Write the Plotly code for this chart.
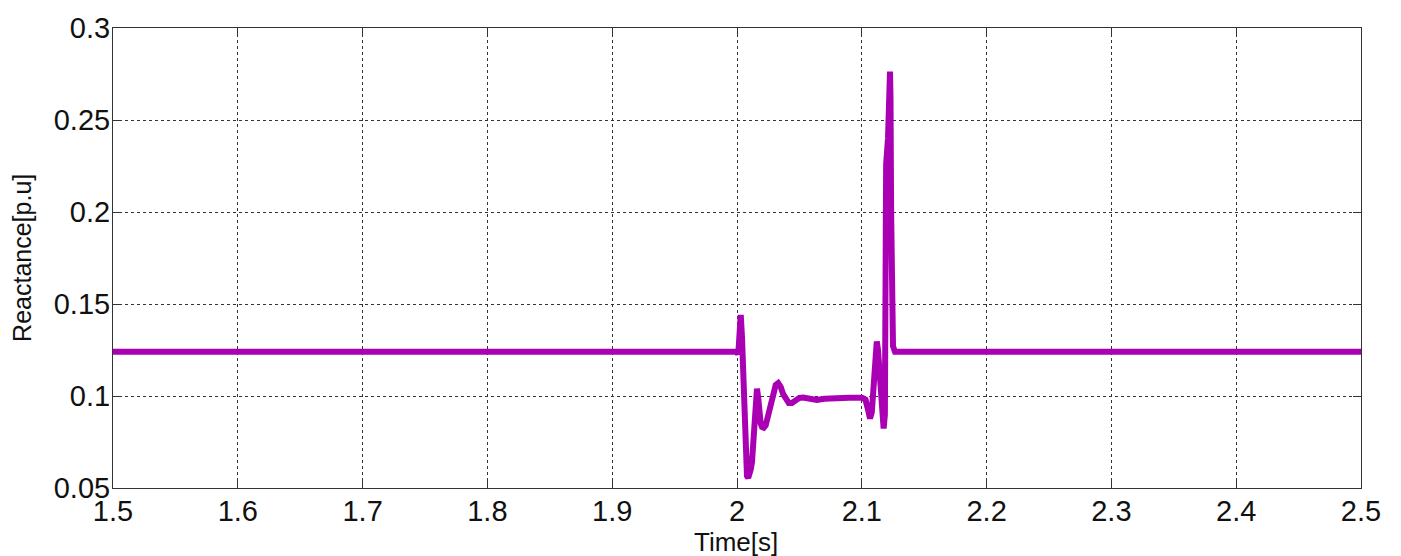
import plotly.graph_objects as go

# Reactance response around the disturbance (time in s, reactance in p.u.)
time_s = [
    1.5, 2.000, 2.001, 2.002, 2.003, 2.004, 2.005, 2.006, 2.007, 2.008,
    2.009, 2.010, 2.011, 2.012, 2.013, 2.014, 2.015, 2.016, 2.017, 2.018,
    2.019, 2.020, 2.0215, 2.023, 2.025, 2.027, 2.029, 2.031, 2.033, 2.035,
    2.037, 2.039, 2.0415, 2.044, 2.047, 2.050, 2.053, 2.058, 2.064, 2.070,
    2.080, 2.090, 2.100, 2.103, 2.105, 2.1066, 2.108, 2.110, 2.111, 2.112,
    2.113, 2.115, 2.1165, 2.1175, 2.1185, 2.119, 2.1195, 2.121, 2.1226, 2.123,
    2.1235, 2.124, 2.125, 2.1266, 2.5,
]
reactance_pu = [
    0.124, 0.124, 0.1226, 0.140, 0.144, 0.132, 0.108, 0.082, 0.064, 0.0565,
    0.0555, 0.057, 0.060, 0.064, 0.075, 0.092, 0.102, 0.104, 0.099, 0.090,
    0.085, 0.0832, 0.0828, 0.084, 0.089, 0.096, 0.102, 0.106, 0.107, 0.105,
    0.101, 0.098, 0.0962, 0.0962, 0.0975, 0.099, 0.0992, 0.0983, 0.0978, 0.0985,
    0.0990, 0.0990, 0.0990, 0.0980, 0.0925, 0.0878, 0.091, 0.112, 0.126, 0.1296,
    0.125, 0.102, 0.085, 0.0823, 0.090, 0.128, 0.226, 0.240, 0.2763, 0.262,
    0.200, 0.140, 0.127, 0.124, 0.124,
]

x_ticks = [1.5, 1.6, 1.7, 1.8, 1.9, 2.0, 2.1, 2.2, 2.3, 2.4, 2.5]
x_tick_text = ["1.5", "1.6", "1.7", "1.8", "1.9", "2", "2.1", "2.2", "2.3", "2.4", "2.5"]
y_ticks = [0.05, 0.1, 0.15, 0.2, 0.25, 0.3]
y_tick_text = ["0.05", "0.1", "0.15", "0.2", "0.25", "0.3"]

FONT = "Liberation Sans, Arial, sans-serif"

fig = go.Figure()
fig.add_trace(go.Scatter(
    x=time_s, y=reactance_pu, mode="lines",
    line=dict(color="#AA00B4", width=6),
    showlegend=False, hoverinfo="x+y",
))

axis_common = dict(
    showline=True, linecolor="#333333", linewidth=1, mirror="ticks",
    ticks="inside", ticklen=8, tickcolor="#333333", tickwidth=1,
    showgrid=True, gridcolor="#333333", gridwidth=1, griddash="3px,3px",
    zeroline=False,
    tickfont=dict(family=FONT, size=29, color="#111111"),
)

fig.update_xaxes(
    range=[1.5, 2.5], tickvals=x_ticks, ticktext=x_tick_text,
    ticklabelstandoff=-3, **axis_common,
)
fig.update_yaxes(
    range=[0.05, 0.3], tickvals=y_ticks, ticktext=y_tick_text,
    ticklabelstandoff=-4, **axis_common,
)

fig.add_annotation(
    text="Time[s]", xref="paper", yref="paper", x=0.4988, y=-0.118,
    xanchor="center", yanchor="middle", showarrow=False,
    font=dict(family=FONT, size=26, color="#111111"),
)
fig.add_annotation(
    text="Reactance[p.u]", xref="paper", yref="paper", x=-0.073, y=0.50,
    xanchor="center", yanchor="middle", showarrow=False, textangle=-90,
    font=dict(family=FONT, size=25, color="#111111"),
)

fig.update_layout(
    width=1401, height=556,
    margin=dict(l=113, r=40, t=23, b=68),
    paper_bgcolor="white", plot_bgcolor="white",
)

fig.write_html("out.html")
